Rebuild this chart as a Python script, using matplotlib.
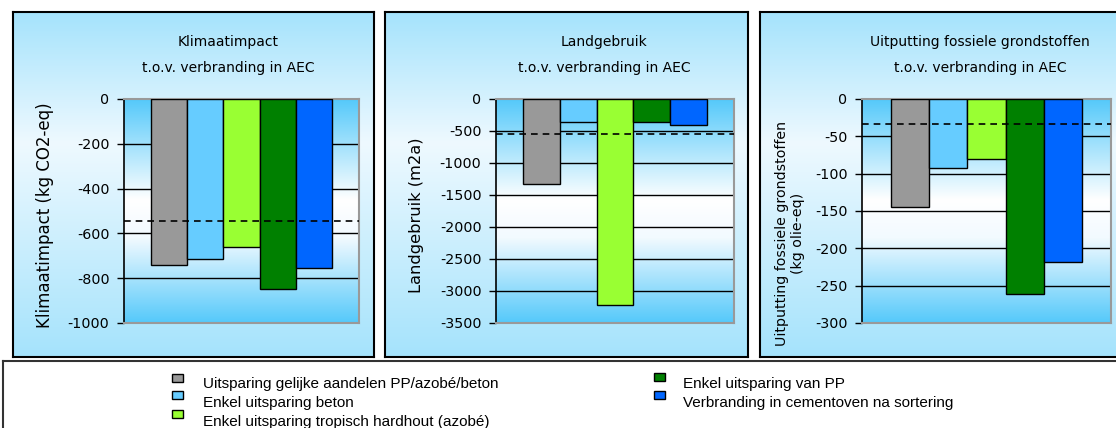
import numpy as np
import matplotlib
matplotlib.use("Agg")
import matplotlib.pyplot as plt
from matplotlib.colors import LinearSegmentedColormap
from matplotlib.patches import Rectangle

plt.rcParams['axes.unicode_minus'] = False
plt.rcParams['font.family'] = ['DejaVu Sans']

# Scenarios (series) and their colours
scenarios = [
    "Uitsparing gelijke aandelen PP/azobé/beton",
    "Enkel uitsparing beton",
    "Enkel uitsparing tropisch hardhout (azobé)",
    "Enkel uitsparing van PP",
    "Verbranding in cementoven na sortering",
]
colors = ["#999999", "#66CCFF", "#99FF33", "#008000", "#0066FF"]

# Impact per scenario, relative to incineration in AEC
klimaat = [-741, -716, -659, -850, -753]
landgebruik = [-1323, -365, -3219, -364, -411]
fossiel = [-144, -92, -81, -261, -218]

# Reference level (dashed line) per indicator
klimaat_ref = -543
landgebruik_ref = -547
fossiel_ref = -33.5

titles = ["Klimaatimpact", "Landgebruik", "Uitputting fossiele grondstoffen"]
subtitle = "t.o.v. verbranding in AEC"
ylabels = ["Klimaatimpact (kg CO2-eq)", "Landgebruik (m2a)",
           "Uitputting fossiele grondstoffen\n(kg olie-eq)"]
yticks = [
    [0, -200, -400, -600, -800, -1000],
    [0, -500, -1000, -1500, -2000, -2500, -3000, -3500],
    [0, -50, -100, -150, -200, -250, -300],
]

W, H = 1116, 428
fig = plt.figure(figsize=(W / 100, H / 100), dpi=100)
fig.patch.set_facecolor("white")


def rect(x0, y0, x1, y1):
    """Pixel box (top-left origin) -> figure fraction rect."""
    return [x0 / W, 1 - y1 / H, (x1 - x0) / W, (y1 - y0) / H]


panel_cmap = LinearSegmentedColormap.from_list(
    "panel", [(0.0, "#A5E3FC"), (0.62, "#EEF9FF"), (1.0, "#A5E3FC")])
plot_cmap = LinearSegmentedColormap.from_list(
    "plot", [(0.0, "#55C9FA"), (0.38, "#F2FAFF"), (0.55, "#FFFFFF"),
             (1.0, "#55C9FA")])
grad = np.linspace(0, 1, 256).reshape(-1, 1)

panels = [(13, 374), (385, 748), (760, 1124)]
plots = [(124, 359), (496, 734), (862, 1111)]
title_x = [228, 604, 980]
ylabel_pos = [(45, 215, 12), (417, 215, 11.7), (790, 233, 10.2)]

data = [klimaat, landgebruik, fossiel]
refs = [klimaat_ref, landgebruik_ref, fossiel_ref]

for i in range(3):
    # panel background with border
    pax = fig.add_axes(rect(panels[i][0], 12, panels[i][1], 357), zorder=0)
    pax.imshow(grad, aspect="auto", cmap=panel_cmap, extent=(0, 1, 0, 1))
    pax.set_xlim(0, 1)
    pax.set_ylim(1, 0)
    pax.set_xticks([])
    pax.set_yticks([])
    for s in pax.spines.values():
        s.set_linewidth(1.5)
        s.set_color("black")

    # plot-area gradient
    bax = fig.add_axes(rect(plots[i][0], 99, plots[i][1], 323), zorder=1)
    bax.imshow(grad, aspect="auto", cmap=plot_cmap, extent=(0, 1, 0, 1))
    bax.set_xlim(0, 1)
    bax.set_ylim(1, 0)
    bax.axis("off")

    # bar chart
    ax = fig.add_axes(rect(plots[i][0], 99, plots[i][1], 323), zorder=2)
    ax.set_facecolor("none")
    x = np.arange(len(scenarios))
    ax.bar(x, data[i], width=1.0, color=colors, edgecolor="black",
           linewidth=1.0, zorder=3)
    ax.axhline(refs[i], color="black", linestyle=(0, (4, 3)), linewidth=1.2,
               zorder=4)
    ax.set_xlim(-1.25, 5.25)
    ax.set_ylim(yticks[i][-1], 0)
    ax.set_yticks(yticks[i])
    ax.set_yticklabels([str(v) for v in yticks[i]])
    ax.set_xticks([])
    for v in yticks[i][1:-1]:
        ax.axhline(v, color="black", linewidth=1.0, zorder=1)
    for side in ["top", "right", "bottom"]:
        ax.spines[side].set_color("#999999")
        ax.spines[side].set_linewidth(1.5)
    ax.spines["left"].set_color("black")
    ax.spines["left"].set_linewidth(1.2)
    ax.tick_params(axis="y", direction="out", length=5, width=1.0,
                   pad=5.5, labelsize=10.3, colors="black")

    fig.text(title_x[i] / W, 1 - 42 / H, titles[i], ha="center",
             va="center", fontsize=10)
    fig.text(title_x[i] / W, 1 - 68 / H, subtitle, ha="center",
             va="center", fontsize=10)
    lx, ly, fs = ylabel_pos[i]
    fig.text(lx / W, 1 - ly / H, ylabels[i], rotation=90, ha="center",
             va="center", fontsize=fs, multialignment="center",
             linespacing=1.2)

# legend box
lax = fig.add_axes(rect(3, 361, 1122, 434), zorder=0)
lax.set_facecolor("white")
lax.set_xticks([])
lax.set_yticks([])
for s in lax.spines.values():
    s.set_linewidth(1.5)
    s.set_color("#333333")

legend_slots = [
    (172, 374, 203, 384),
    (172, 391, 203, 403),
    (172, 410, 203, 422),
    (654, 373, 683, 384),
    (654, 391, 683, 403),
]
for (mx, my, tx, ty), name, col in zip(legend_slots, scenarios, colors):
    fig.patches.append(Rectangle((mx / W, 1 - (my + 8) / H), 11 / W, 8 / H,
                                 transform=fig.transFigure,
                                 facecolor=col, edgecolor="black",
                                 linewidth=1.0, zorder=5))
    fig.text(tx / W, 1 - ty / H, name, ha="left", va="center", fontsize=11,
             family=["Liberation Sans Narrow", "Liberation Sans"], zorder=5)

fig.savefig("out.png", dpi=100)
